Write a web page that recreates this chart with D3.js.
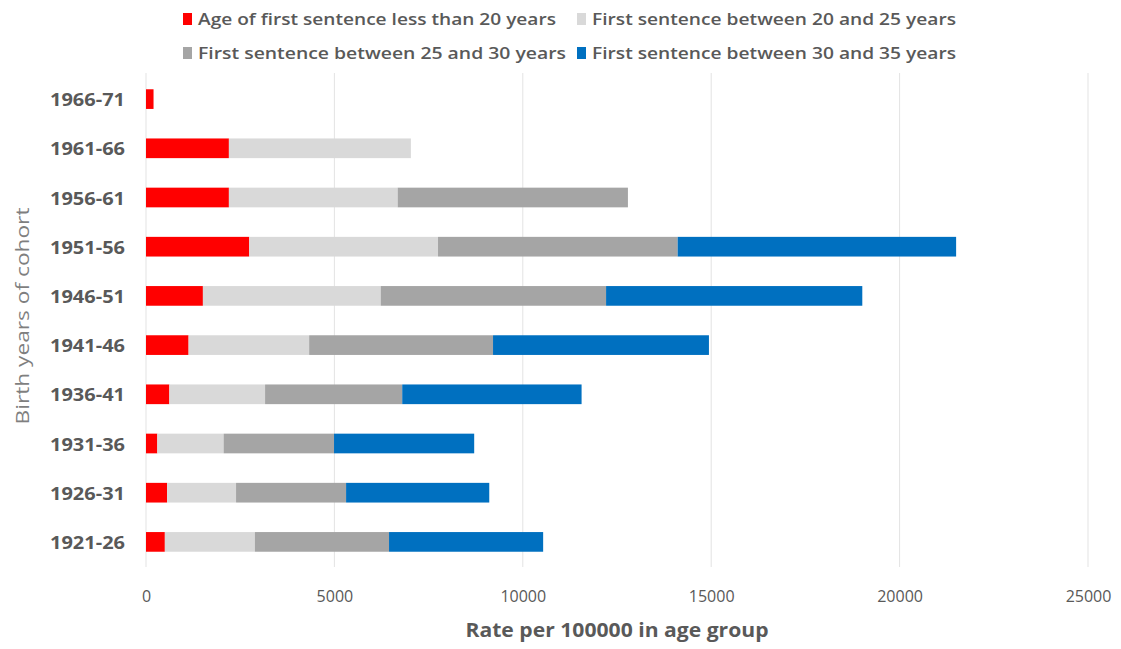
<!DOCTYPE html>
<html>
<head>
<meta charset="utf-8">
<script src="https://cdn.jsdelivr.net/npm/d3@7"></script>
<style>
  html, body { margin: 0; padding: 0; background: #ffffff; }
  svg { display: block; }
</style>
</head>
<body>
<svg id="chart" width="1121" height="649"></svg>
<script>
// Birth cohorts, drawn top to bottom
const cohorts = ["1966-71", "1961-66", "1956-61", "1951-56", "1946-51",
                 "1941-46", "1936-41", "1931-36", "1926-31", "1921-26"];

// Rate per 100000 by age of first sentence (stacked segments)
const under20   = [200, 2200, 2200, 2740, 1510, 1130, 620, 300, 560, 500];
const age20to25 = [0, 4830, 4480, 5010, 4720, 3200, 2540, 1760, 1830, 2390];
const age25to30 = [0, 0, 6110, 6360, 5980, 4880, 3640, 2930, 2920, 3560];
const age30to35 = [0, 0, 0, 7390, 6800, 5730, 4760, 3720, 3800, 4090];

const seriesNames = [
  "Age of first sentence less than 20 years",
  "First sentence between 20 and 25 years",
  "First sentence between 25 and 30 years",
  "First sentence between 30 and 35 years"
];
const seriesColors = ["#ff0000", "#d9d9d9", "#a5a5a5", "#0070c0"];
const xTicks = [0, 5000, 10000, 15000, 20000, 25000];

const svg = d3.select("#chart");
const fontFamily = "'Open Sans', 'Liberation Sans', sans-serif";

const x = d3.scaleLinear().domain([0, 25000]).range([146, 1088]);
const y = d3.scaleBand().domain(cohorts).range([74.5, 566.5]).paddingInner(0.6).paddingOuter(0.3);

// Vertical gridlines
svg.append("g")
  .selectAll("line")
  .data(xTicks)
  .join("line")
  .attr("x1", d => x(d)).attr("x2", d => x(d))
  .attr("y1", 73).attr("y2", 567)
  .attr("stroke", "#e3e3e3")
  .attr("stroke-width", 1);

// Stack the four age bands
const rows = cohorts.map((c, i) => ({
  cohort: c,
  s0: under20[i], s1: age20to25[i], s2: age25to30[i], s3: age30to35[i]
}));
const stack = d3.stack().keys(["s0", "s1", "s2", "s3"]);
const layers = stack(rows);

svg.append("g")
  .selectAll("g")
  .data(layers)
  .join("g")
  .attr("fill", (d, i) => seriesColors[i])
  .selectAll("rect")
  .data(d => d.filter(p => p[1] > p[0]))
  .join("rect")
  .attr("x", d => x(d[0]))
  .attr("width", d => x(d[1]) - x(d[0]))
  .attr("y", d => y(d.data.cohort))
  .attr("height", y.bandwidth());

// Category axis labels
const yAxis = d3.axisLeft(y).tickSize(0).tickPadding(0);
const yg = svg.append("g").attr("transform", "translate(125,1.5)").call(yAxis);
yg.select(".domain").remove();
yg.selectAll("text")
  .attr("font-family", fontFamily)
  .attr("font-size", 17.5)
  .attr("font-weight", 700)
  .attr("fill", "#595959")
  .attr("textLength", 75)
  .attr("lengthAdjust", "spacingAndGlyphs");

// Value axis labels
const xAxis = d3.axisBottom(x).tickValues(xTicks).tickFormat(d3.format("d")).tickSize(0).tickPadding(0);
const xg = svg.append("g").attr("transform", "translate(0,591)").call(xAxis);
xg.select(".domain").remove();
xg.selectAll("text")
  .attr("font-family", fontFamily)
  .attr("font-size", 16)
  .attr("fill", "#595959");

// Axis titles
svg.append("text")
  .attr("x", 617).attr("y", 637)
  .attr("text-anchor", "middle")
  .attr("font-family", fontFamily)
  .attr("font-size", 19)
  .attr("font-weight", 700)
  .attr("fill", "#595959")
  .attr("textLength", 303)
  .attr("lengthAdjust", "spacingAndGlyphs")
  .text("Rate per 100000 in age group");

svg.append("text")
  .attr("transform", "translate(29,316) rotate(-90)")
  .attr("text-anchor", "middle")
  .attr("font-family", fontFamily)
  .attr("font-size", 19)
  .attr("fill", "#7f7f7f")
  .attr("textLength", 217)
  .attr("lengthAdjust", "spacingAndGlyphs")
  .text("Birth years of cohort");

// Legend, two rows of two entries
const legendPos = [
  { x: 183, y: 19, w: 358 },
  { x: 577, y: 19, w: 364 },
  { x: 183, y: 53, w: 368 },
  { x: 577, y: 53, w: 364 }
];
const legend = svg.append("g")
  .selectAll("g")
  .data(seriesNames)
  .join("g")
  .attr("transform", (d, i) => `translate(${legendPos[i].x},${legendPos[i].y})`);
legend.append("rect")
  .attr("x", 0).attr("y", -6).attr("width", 9).attr("height", 12)
  .attr("fill", (d, i) => seriesColors[i]);
legend.append("text")
  .attr("x", 15).attr("y", 6)
  .attr("font-family", fontFamily)
  .attr("font-size", 17)
  .attr("font-weight", 600)
  .attr("fill", "#595959")
  .attr("textLength", (d, i) => legendPos[i].w)
  .attr("lengthAdjust", "spacingAndGlyphs")
  .text(d => d);
</script>
</body>
</html>
